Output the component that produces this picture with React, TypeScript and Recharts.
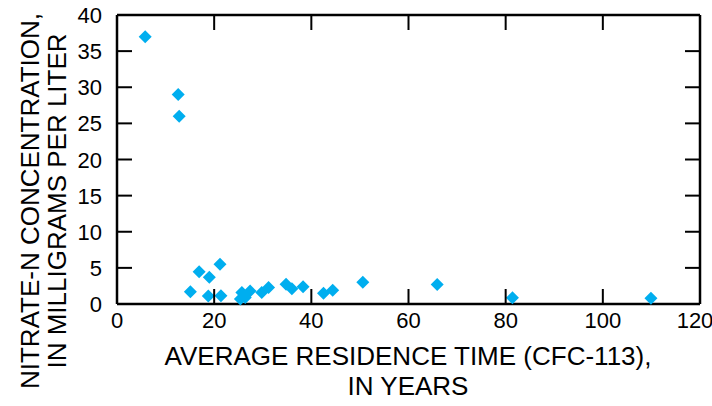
import { Scatter, ScatterChart, XAxis, YAxis } from 'recharts';

// residence time (years), nitrate-N (mg/L)
const residenceYears = [
  5.8, 12.6, 12.8, 15.1, 16.9, 19.0, 21.2, 18.8, 21.4, 25.4, 25.7, 26.4, 27.4, 29.8,
  31.2, 34.8, 36.0, 38.3, 42.5, 44.4, 50.6, 65.9, 81.4, 109.9,
];
const nitrateN = [
  37.0, 29.0, 26.0, 1.7, 4.45, 3.7, 5.5, 1.1, 1.15, 0.7, 1.6, 0.9, 1.8, 1.6,
  2.3, 2.75, 2.1, 2.4, 1.5, 1.9, 3.0, 2.7, 0.85, 0.8,
];
const xTicks = [0, 20, 40, 60, 80, 100, 120];
const yTicks = [0, 5, 10, 15, 20, 25, 30, 35, 40];

const points = residenceYears.map((x, i) => ({ x, y: nitrateN[i] }));

const FONT = "Arial, 'Liberation Sans', Helvetica, sans-serif";
const BLUE = '#00aeef';

// plot box (matches chart margins + axis sizes below)
const LEFT = 117;
const TOP = 15;
const W = 583;
const H = 289;
const X_MAX = 120;
const Y_MAX = 40;
const TL = 15;

const Diamond = (props: any) => {
  const { cx, cy } = props;
  const r = 6.5;
  return (
    <polygon
      points={`${cx},${cy - r} ${cx + r},${cy} ${cx},${cy + r} ${cx - r},${cy}`}
      fill={BLUE}
    />
  );
};

const BottomLabel = (props: any) => {
  const x = Number(props.x);
  const y = Number(props.y);
  const v = props.payload.value;
  return (
    <text
      x={x - (v === 120 ? 5 : 0)}
      y={y + 24}
      textAnchor="middle"
      fontSize={22}
      fontFamily={FONT}
      fill="#000"
    >
      {v}
    </text>
  );
};

const LeftLabel = (props: any) => {
  const x = Number(props.x);
  const y = Number(props.y);
  return (
    <text x={x - 15} y={y + 8} textAnchor="end" fontSize={22} fontFamily={FONT} fill="#000">
      {props.payload.value}
    </text>
  );
};

const axisLine = { stroke: '#000', strokeWidth: 2.5 };

// inward frame ticks on all four sides
const FrameTicks = () => {
  const xs = xTicks.filter((v) => v > 0 && v < X_MAX).map((v) => LEFT + (v / X_MAX) * W);
  const ys = yTicks.filter((v) => v > 0 && v < Y_MAX).map((v) => TOP + H - (v / Y_MAX) * H);
  return (
    <g stroke="#000" strokeWidth={2}>
      {xs.map((x) => (
        <g key={`x${x}`}>
          <line x1={x} y1={TOP + H} x2={x} y2={TOP + H - TL} />
          <line x1={x} y1={TOP} x2={x} y2={TOP + TL} />
        </g>
      ))}
      {ys.map((y) => (
        <g key={`y${y}`}>
          <line x1={LEFT} y1={y} x2={LEFT + TL} y2={y} />
          <line x1={LEFT + W} y1={y} x2={LEFT + W - TL} y2={y} />
        </g>
      ))}
    </g>
  );
};

export default function App() {
  return (
    <div style={{ position: 'absolute', left: 0, top: 0, width: 712, height: 406, background: '#fff' }}>
      <ScatterChart width={712} height={406} margin={{ top: 5, right: 2, bottom: 62, left: 57 }}>
        <XAxis
          xAxisId="b"
          type="number"
          dataKey="x"
          domain={[0, X_MAX]}
          ticks={xTicks}
          height={40}
          tickSize={0}
          tickMargin={0}
          tickLine={false}
          axisLine={axisLine}
          tick={<BottomLabel />}
          interval={0}
        />
        <XAxis
          xAxisId="t"
          orientation="top"
          type="number"
          domain={[0, X_MAX]}
          height={10}
          tick={false}
          tickLine={false}
          axisLine={axisLine}
        />
        <YAxis
          yAxisId="l"
          type="number"
          dataKey="y"
          domain={[0, Y_MAX]}
          ticks={yTicks}
          width={60}
          tickSize={0}
          tickMargin={0}
          tickLine={false}
          axisLine={axisLine}
          tick={<LeftLabel />}
          interval={0}
        />
        <YAxis
          yAxisId="r"
          orientation="right"
          type="number"
          domain={[0, Y_MAX]}
          width={10}
          tick={false}
          tickLine={false}
          axisLine={axisLine}
        />
        <Scatter
          xAxisId="b"
          yAxisId="l"
          data={points}
          shape={<Diamond />}
          isAnimationActive={false}
        />
      </ScatterChart>
      <svg
        width={712}
        height={406}
        style={{ position: 'absolute', left: 0, top: 0, pointerEvents: 'none' }}
      >
        <FrameTicks />
        <g fontFamily={FONT} fontSize={26} fill="#000" textAnchor="middle">
          <text transform="translate(39,201) rotate(-90)">NITRATE-N CONCENTRATION,</text>
          <text transform="translate(66,201) rotate(-90)">IN MILLIGRAMS PER LITER</text>
          <text x={408} y={365}>AVERAGE RESIDENCE TIME (CFC-113),</text>
          <text x={408} y={395}>IN YEARS</text>
        </g>
      </svg>
    </div>
  );
}
